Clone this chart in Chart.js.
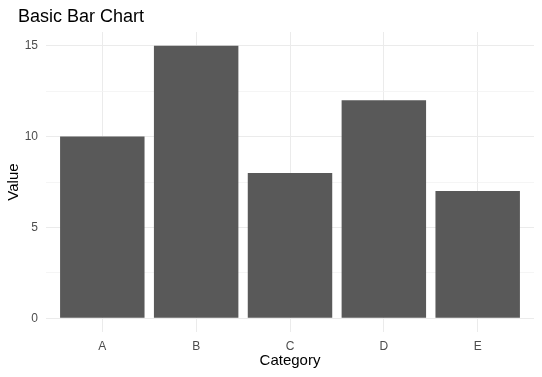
<!DOCTYPE html>
<html>
<head>
<meta charset="utf-8">
<script src="https://cdn.jsdelivr.net/npm/chart.js@4.4.1/dist/chart.umd.min.js"></script>
<style>
    html, body { margin: 0; padding: 0; background: #ffffff; }
    canvas { display: block; }
</style>
</head>
<body>
<canvas id="barChart" width="542" height="377"></canvas>
<script>
const categories = ['A', 'B', 'C', 'D', 'E'];
const values = [10, 15, 8, 12, 7];
const yMajorTicks = [0, 5, 10, 15];
const yMinorTicks = [2.5, 7.5, 12.5];

document.addEventListener('DOMContentLoaded', function () {
    const canvas = document.getElementById('barChart');

    Chart.defaults.font.family = "'Liberation Sans', Arial, sans-serif";

    const points = categories.map(function (c, i) {
        return { x: i + 1, y: [0, values[i]] };
    });

    new Chart(canvas, {
        type: 'bar',
        data: {
            datasets: [
                {
                    label: 'Value',
                    data: points,
                    backgroundColor: '#595959',
                    borderWidth: 0,
                    barPercentage: 0.9,
                    categoryPercentage: 1.0
                }
            ]
        },
        options: {
            responsive: false,
            animation: false,
            layout: {
                padding: { left: 18, right: 8, top: 0, bottom: 0 }
            },
            scales: {
                x: {
                    type: 'linear',
                    offset: false,
                    min: 0.4,
                    max: categories.length + 0.6,
                    afterBuildTicks: function (scale) {
                        scale.ticks = categories.map(function (c, i) { return { value: i + 1 }; });
                    },
                    afterFit: function (scale) {
                        scale.height = 45;
                    },
                    ticks: {
                        color: '#4d4d4d',
                        font: { size: 12 },
                        padding: 7,
                        maxRotation: 0,
                        callback: function (value) {
                            return categories[value - 1];
                        }
                    },
                    grid: {
                        offset: false,
                        color: '#ebebeb',
                        lineWidth: 1,
                        drawTicks: false
                    },
                    border: { display: false },
                    title: {
                        display: true,
                        text: 'Category',
                        color: '#000000',
                        font: { size: 15 },
                        padding: { top: 0, bottom: 7 }
                    }
                },
                y: {
                    min: -0.75,
                    max: 15.75,
                    afterBuildTicks: function (scale) {
                        scale.ticks = yMajorTicks.concat(yMinorTicks)
                            .sort(function (a, b) { return a - b; })
                            .map(function (v) { return { value: v }; });
                    },
                    afterFit: function (scale) {
                        scale.width = 28;
                    },
                    ticks: {
                        color: '#4d4d4d',
                        font: { size: 12 },
                        padding: 8,
                        callback: function (value) {
                            return yMajorTicks.indexOf(value) >= 0 ? String(value) : '';
                        }
                    },
                    grid: {
                        color: function (ctx) {
                            return yMajorTicks.indexOf(ctx.tick.value) >= 0 ? '#ebebeb' : '#f3f3f3';
                        },
                        lineWidth: function (ctx) {
                            return yMajorTicks.indexOf(ctx.tick.value) >= 0 ? 1 : 0.8;
                        },
                        drawTicks: false
                    },
                    border: { display: false },
                    title: {
                        display: true,
                        text: 'Value',
                        color: '#000000',
                        font: { size: 15 },
                        padding: { top: -13, bottom: 0 }
                    }
                }
            },
            plugins: {
                legend: { display: false },
                tooltip: { enabled: false },
                title: {
                    display: true,
                    text: 'Basic Bar Chart',
                    align: 'start',
                    color: '#000000',
                    font: { size: 18, weight: 'normal' },
                    padding: { top: 6, bottom: 4.4 }
                }
            }
        }
    });
});
</script>
</body>
</html>
